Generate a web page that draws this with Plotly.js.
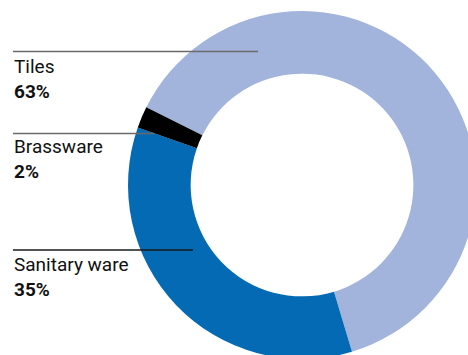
<!DOCTYPE html>
<html>
<head>
<meta charset="utf-8">
<script src="https://cdn.plot.ly/plotly-3.0.1.min.js"></script>
<style>
html,body{margin:0;padding:0;overflow:hidden;background:#fff;}
#chart{width:500px;height:400px;}
</style>
</head>
<body>
<div id="chart"></div>
<script>
// Data
const labels = ['Tiles', 'Sanitary ware', 'Brassware'];
const values = [63, 35, 2];
const colors = ['#A2B4DC', '#046AB3', '#000000'];
const labelTexts = labels.map((l, i) => l + '<br><b>' + values[i] + '%</b>');

const W = 500, H = 400;
const px = x => x / W;
const py = y => 1 - y / H;

const cx = 302, cy = 185, R = 174;

// label positions (pixels) and leader lines
const labelPos = [
  {x: 11.5, y: 53, lineY: 51.5, lineX2: 258, lineColor: '#6a6a6a'},
  {x: 11.5, y: 251, lineY: 250, lineX2: 193, lineColor: '#1a1a1a'},
  {x: 11.5, y: 133, lineY: 133.5, lineX2: 154, lineColor: '#6a6a6a'}
];

const annotations = labelTexts.map((t, i) => ({
  xref: 'paper', yref: 'paper',
  x: px(labelPos[i].x), y: py(labelPos[i].y),
  xanchor: 'left', yanchor: 'top', align: 'left',
  showarrow: false, text: t,
  font: {family: 'Roboto', size: 19, color: '#111111'}
}));

const shapes = labelPos.map(p => ({
  type: 'line', xref: 'paper', yref: 'paper',
  x0: px(13), x1: px(p.lineX2), y0: py(p.lineY), y1: py(p.lineY),
  line: {color: p.lineColor, width: 1.3}
}));

const trace = {
  type: 'pie',
  labels: labels,
  values: values,
  marker: {colors: colors, line: {width: 0}},
  hole: 0.64,
  sort: false,
  direction: 'clockwise',
  rotation: -63.5,
  textinfo: 'none',
  hoverinfo: 'none',
  showlegend: false,
  domain: {x: [(cx - R) / W, (cx + R) / W], y: [(H - cy - R) / H, (H - cy + R) / H]}
};

const layout = {
  width: W, height: H,
  margin: {l: 0, r: 0, t: 0, b: 0},
  paper_bgcolor: '#ffffff',
  showlegend: false,
  annotations: annotations,
  shapes: shapes
};

Plotly.newPlot('chart', [trace], layout, {displayModeBar: false, staticPlot: true});
</script>
</body>
</html>
